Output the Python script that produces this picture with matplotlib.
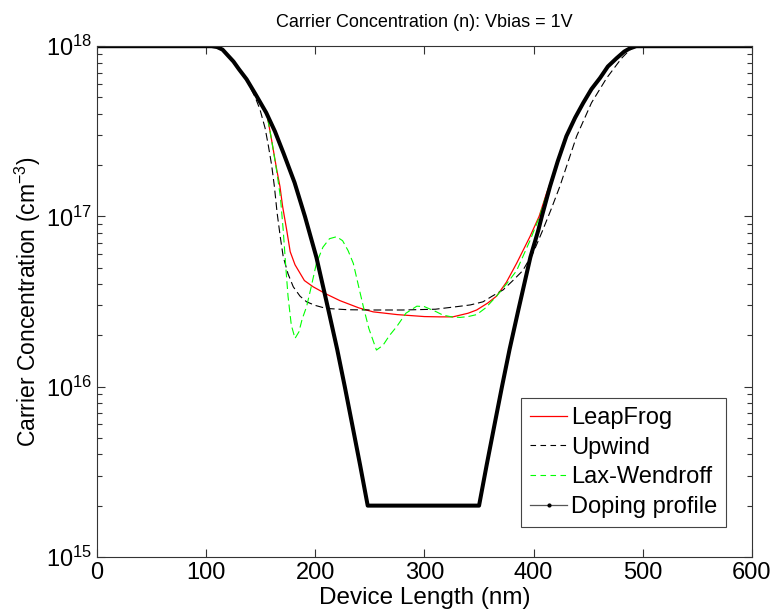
import numpy as np
import matplotlib
matplotlib.use("Agg")
import matplotlib.pyplot as plt
from matplotlib.lines import Line2D
from matplotlib.ticker import LogLocator, NullFormatter

plt.rcParams['font.family'] = ['Liberation Sans', 'DejaVu Sans']
plt.rcParams['mathtext.fontset'] = 'custom'
plt.rcParams['mathtext.rm'] = 'Liberation Sans'

# values (x in nm, y in cm^-3)
dop_x = [0, 105, 110, 115, 120, 125, 130, 137, 145, 155, 163, 171, 181, 190.5, 201, 212, 220, 227,
         234, 241, 248,
         350, 357, 364, 371, 378, 386, 397, 404.3, 407.5, 415, 422, 430, 438, 445.5, 453, 460.8,
         468, 476, 483, 488, 494, 600]
dop_y = [1e18, 1e18, 9.89e17, 9.55e17, 8.81e17, 8.13e17, 7.33e17, 6.4e17, 5.25e17, 4.07e17,
         3.16e17, 2.34e17, 1.58e17, 1e17, 5.75e16, 2.82e16, 1.66e16, 1e16, 5.9e15, 3.47e15, 2e15,
         2e15, 3.47e15, 5.9e15, 1e16, 1.66e16, 2.82e16, 5.75e16, 8.3e16, 1e17, 1.5e17, 2.1e17,
         2.96e17, 3.8e17, 4.65e17, 5.6e17, 6.5e17, 7.6e17, 8.5e17, 9.3e17, 9.7e17, 1e18, 1e18]

lf_x = [0, 105, 110, 115, 120, 125, 130, 137, 145, 155.4, 160, 164.6, 167.6, 170, 173.8, 177,
        181.4, 190, 198, 210, 222.6, 240, 253, 275, 300, 314, 326, 340, 347.8, 358, 366, 375, 384.4,
        396.6, 405, 412, 415, 422, 430, 438, 445.5, 453, 460.8, 468, 476, 483, 488, 494, 600]
lf_y = [1e18, 1e18, 9.89e17, 9.55e17, 8.81e17, 8.13e17, 7.33e17, 6.4e17, 5.25e17, 4.07e17, 2.8e17,
        1.89e17, 1.5e17, 1.15e17, 8.3e16, 6.2e16, 5.2e16, 4.2e16, 3.86e16, 3.5e16, 3.2e16, 2.9e16,
        2.75e16, 2.65e16, 2.58e16, 2.57e16, 2.57e16, 2.7e16, 2.82e16, 3.1e16, 3.4e16, 4.1e16,
        5.3e16, 7.6e16, 1.0e17, 1.38e17, 1.55e17, 2.12e17, 2.96e17, 3.8e17, 4.65e17, 5.6e17,
        6.5e17, 7.6e17, 8.5e17, 9.3e17, 9.7e17, 1e18, 1e18]

up_x = [0, 105, 110, 115, 120, 125, 130, 137, 140, 145, 149.3, 154, 157, 160, 162.5, 165, 168,
        170.6, 175, 179.8, 186, 192, 200, 210, 230, 253, 280, 310, 329.5, 342, 353.6, 362, 372,
        381, 390, 400, 408, 416, 424, 439.4, 453, 466.9, 480.6, 488, 494, 600]
up_y = [1e18, 1e18, 9.89e17, 9.55e17, 8.81e17, 8.13e17, 7.33e17, 6.3e17, 5.8e17, 5.0e17, 4.25e17,
        3.3e17, 2.6e17, 2.0e17, 1.5e17, 1.05e17, 7.5e16, 5.8e16, 4.6e16, 3.86e16, 3.4e16, 3.15e16,
        3.0e16, 2.88e16, 2.83e16, 2.82e16, 2.82e16, 2.85e16, 2.95e16, 3.02e16, 3.15e16, 3.4e16,
        3.7e16, 4.2e16, 4.8e16, 6.2e16, 8.2e16, 1.1e17, 1.5e17, 2.96e17, 4.65e17, 6.5e17, 8.5e17,
        9.5e17, 1e18, 1e18]

lw_x = [0, 105, 110, 115, 120, 125, 130, 137, 145, 155.4, 160, 164.6, 168, 170.6, 173, 175, 178,
        181.4, 185, 188, 192, 196, 201, 207, 213, 219.5, 225, 230, 234.8, 240, 244, 249, 256, 262,
        268, 274.5, 283, 293, 300, 311, 317, 325, 332.5, 340, 347.8, 356, 366, 375, 384.4, 396.6,
        405, 412, 415, 422, 430, 438, 445.5, 453, 460.8, 468, 476, 483, 488, 494, 600]
lw_y = [1e18, 1e18, 9.89e17, 9.55e17, 8.81e17, 8.13e17, 7.33e17, 6.4e17, 5.25e17, 4.07e17, 2.8e17,
        1.85e17, 1.3e17, 8.3e16, 5e16, 3.4e16, 2.3e16, 1.92e16, 2.1e16, 2.5e16, 2.95e16, 3.8e16,
        5.3e16, 6.6e16, 7.4e16, 7.6e16, 7.2e16, 6.3e16, 5.3e16, 3.8e16, 2.95e16, 2.2e16, 1.64e16,
        1.75e16, 2.0e16, 2.25e16, 2.7e16, 2.97e16, 2.95e16, 2.75e16, 2.63e16, 2.57e16, 2.55e16,
        2.58e16, 2.65e16, 2.9e16, 3.4e16, 4.0e16, 4.8e16, 7.2e16, 9.8e16, 1.36e17, 1.55e17,
        2.12e17, 2.96e17, 3.8e17, 4.65e17, 5.6e17, 6.5e17, 7.6e17, 8.5e17, 9.3e17, 9.7e17, 1e18,
        1e18]

labels = ['LeapFrog', 'Upwind', 'Lax-Wendroff', 'Doping profile']

fig = plt.figure(figsize=(7.76, 6.16), dpi=100)
ax = fig.add_axes([0.125, 0.096, 0.844, 0.829])

ax.semilogy(lf_x, lf_y, color='r', lw=0.9)
ax.semilogy(up_x, up_y, color='k', lw=0.8, dashes=(7, 3.5))
ax.semilogy(lw_x, lw_y, color=(0, 1, 0), lw=0.8, dashes=(7, 3.5))
ax.semilogy(dop_x, dop_y, color='k', lw=2.9, solid_joinstyle='round')

ax.set_xlim(0, 600)
ax.set_ylim(1e15, 1e18)
ax.set_xticks(np.arange(0, 601, 100))
ax.yaxis.set_major_locator(LogLocator(base=10, numticks=10))
ax.yaxis.set_minor_locator(LogLocator(base=10, subs=np.arange(2, 10), numticks=10))
ax.yaxis.set_minor_formatter(NullFormatter())
ax.tick_params(which='both', direction='in', top=True, right=True, colors='#333333',
               labelcolor='k', labelsize=17)
ax.tick_params(which='major', length=6, width=0.8)
ax.tick_params(which='minor', length=3.5, width=0.8)
for s in ax.spines.values():
    s.set_color('#333333')
    s.set_linewidth(0.8)

ax.set_title('Carrier Concentration (n): Vbias = 1V', fontsize=13, pad=14)
ax.set_xlabel('Device Length (nm)', fontsize=17.5, labelpad=2)
ax.set_ylabel('Carrier Concentration (cm$^{-3}$)', fontsize=16.5, labelpad=2)

# legend handles: thin lines as in the original legend, dot marker for the doping curve
handles = [Line2D([], [], color='r', lw=0.9),
           Line2D([], [], color='k', lw=0.8, dashes=(5, 4)),
           Line2D([], [], color=(0, 1, 0), lw=0.8, dashes=(5, 4)),
           Line2D([], [], color='#555555', lw=0.9, marker='.', markersize=4,
                  markerfacecolor='k', markeredgecolor='k')]
leg = ax.legend(handles, labels, loc='lower right', bbox_to_anchor=(0.96, 0.059),
                borderaxespad=0, fontsize=17, fancybox=False, framealpha=1,
                edgecolor='#444444', handlelength=1.6, handletextpad=0.15,
                borderpad=0.36, labelspacing=0.33)
leg.get_frame().set_linewidth(0.8)

fig.savefig('out.png', dpi=100)
